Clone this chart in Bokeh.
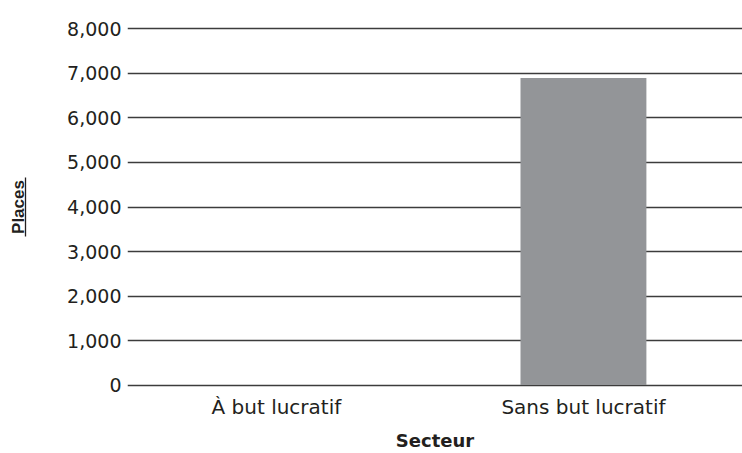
from bokeh.plotting import figure
from bokeh.models import Range1d, FixedTicker, NumeralTickFormatter, LinearAxis
from bokeh.embed import file_html
from bokeh.resources import INLINE

categories = ["À but lucratif", "Sans but lucratif"]
places = [0, 6900]
y_ticks = [0, 1000, 2000, 3000, 4000, 5000, 6000, 7000, 8000]

xpos = [i + 0.5 for i in range(len(categories))]

TXT = "#231f20"
FONT = "DejaVu Sans"

p = figure(width=742, height=453, output_backend="svg", toolbar_location=None,
           x_range=Range1d(0.015, 2.018), y_range=Range1d(-100, 8100),
           min_border_left=127, min_border_right=0, min_border_top=24, min_border_bottom=64)
p.outline_line_color = None
p.background_fill_color = "white"
p.border_fill_color = "white"

p.vbar(x=xpos, top=places, width=0.41, bottom=0, fill_color="#939598", line_color=None)

# y axis (tick labels only)
ya = p.yaxis[0]
ya.ticker = FixedTicker(ticks=y_ticks)
ya.formatter = NumeralTickFormatter(format="0,0")
ya.axis_line_color = None
ya.major_tick_line_color = None
ya.minor_tick_line_color = None
ya.major_tick_out = 0
ya.major_tick_in = 0
ya.minor_tick_out = 0
ya.major_label_text_font = FONT
ya.major_label_text_font_size = "19px"
ya.major_label_text_color = TXT
ya.major_label_text_baseline = "alphabetic"
ya.major_label_standoff = 6

# spacer between tick labels and the y title
spacer = LinearAxis(ticker=FixedTicker(ticks=[4000]), axis_line_color=None,
                    major_tick_line_color=None, minor_tick_line_color=None,
                    major_tick_out=39, major_tick_in=0, minor_tick_out=0,
                    major_label_standoff=0, major_label_overrides={4000: ""},
                    major_label_text_alpha=0)
p.add_layout(spacer, "left")

# y title, underlined by a bounded axis line
ytitle = LinearAxis(ticker=FixedTicker(ticks=[]), bounds=(3337, 4663),
                    axis_line_color=TXT, axis_line_width=1.3,
                    major_tick_line_color=None, minor_tick_line_color=None,
                    major_tick_out=0, major_tick_in=0, minor_tick_out=0,
                    major_label_standoff=0, major_label_text_font_size="0px",
                    axis_label="Places", axis_label_standoff=-2,
                    axis_label_text_font="Liberation Sans",
                    axis_label_text_font_style="bold",
                    axis_label_text_font_size="17px",
                    axis_label_text_color=TXT)
p.add_layout(ytitle, "left")

# x axis
xa = p.xaxis[0]
xa.ticker = FixedTicker(ticks=xpos)
xa.major_label_overrides = {x: c for x, c in zip(xpos, categories)}
xa.axis_line_color = None
xa.major_tick_line_color = None
xa.minor_tick_line_color = None
xa.major_tick_out = 0
xa.major_tick_in = 0
xa.minor_tick_out = 0
xa.major_label_text_font = FONT
xa.major_label_text_font_size = "20px"
xa.major_label_text_color = TXT
xa.major_label_standoff = 5
xa.axis_label = "Secteur"
xa.axis_label_text_font = FONT
xa.axis_label_text_font_style = "bold"
xa.axis_label_text_font_size = "18px"
xa.axis_label_text_color = TXT
xa.axis_label_standoff = 8

# grid
p.xgrid.grid_line_color = None
p.ygrid.ticker = FixedTicker(ticks=y_ticks)
p.ygrid.grid_line_color = "#3c3c3c"
p.ygrid.grid_line_width = 1.3

open("out.html", "w").write(file_html(p, INLINE))
